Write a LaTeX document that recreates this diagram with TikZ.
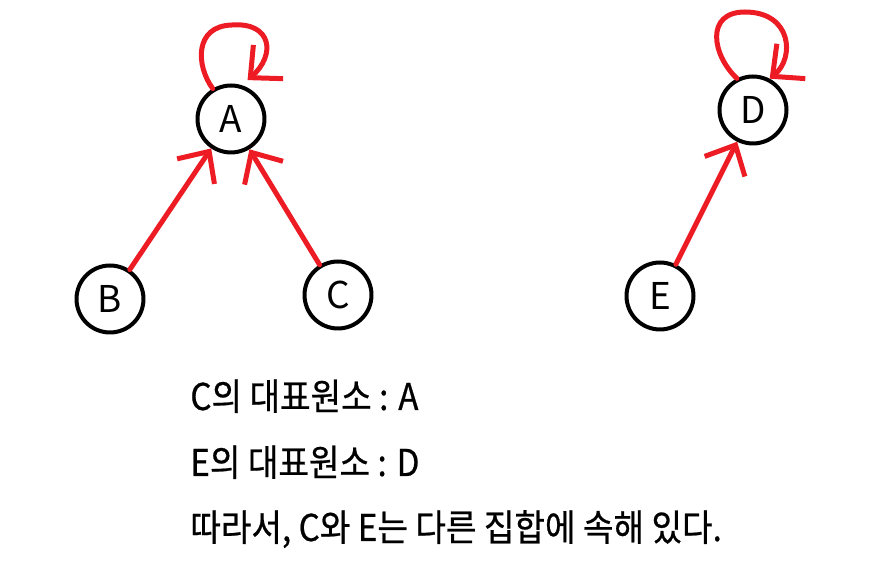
\documentclass[tikz,border=0pt]{standalone}
\usepackage{fontspec}
\setmainfont{Noto Sans CJK KR}[FakeStretch=0.9, FakeBold=0.6]
\newfontfamily\elemfont{Noto Sans CJK KR}
\usetikzlibrary{arrows.meta,calc}
\definecolor{paintred}{RGB}{237,28,36}
\begin{document}
\begin{tikzpicture}[x=0.02cm, y=-0.02cm, every node/.style={font=\fontsize{21}{25}\selectfont},
    elem/.style={draw, circle, line width=0.08cm, minimum size=1.34cm, inner sep=0pt, font=\elemfont\fontsize{21}{25}\selectfont},
    link/.style={draw=paintred, line width=0.1cm, line cap=round, -{Straight Barb[length=0.48cm, width=0.9cm]}},
    note/.style={anchor=base west, inner sep=0pt}]
    \useasboundingbox (0,0) rectangle (890,563);
    % First set
    \node[elem] (A) at (231,119) {A};
    \node[elem] (B) at (110,299) {B};
    \node[elem] (C) at (338,295) {C};
    
    % Second set
    \node[elem] (D) at (753,110) {D};
    \node[elem] (E) at (660,296) {E};
    
    % Parent links
    \draw[link] (B) -- (A);
    \draw[link] (C) -- (A);
    \draw[link] (E) -- (D);
    
    % Roots point to themselves
    \draw[link] (A.121) .. controls (196,66) and (194,26) .. (232,25) .. controls (272,22) and (276,55) .. ($(A.64)+(1,-7)$);
    \draw[link] (D.117) .. controls (712,55) and (705,12) .. (745,12) .. controls (792,12) and (795,58) .. (D.62);
    
    % Text
    \node[note] (repC) at (190,410) {C의 대표원소 : A};
    \node[note] (repE) at (190,476) {E의 대표원소 : D};
    \node[note] (concl) at (190,541) {따라서, C와 E는 다른 집합에 속해 있다.};
\end{tikzpicture}
\end{document}
